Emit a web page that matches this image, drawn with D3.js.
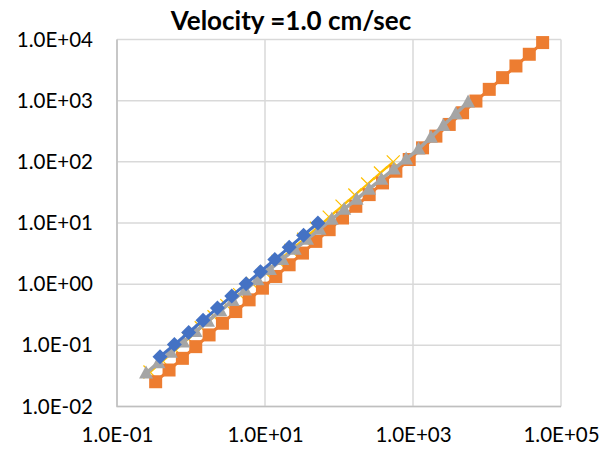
<!DOCTYPE html>
<html>
<head>
<meta charset="utf-8">
<script src="https://cdn.jsdelivr.net/npm/d3@7"></script>
<style>
  body { margin: 0; background: #fff; }
  svg { display: block; }
</style>
</head>
<body>
<svg width="603" height="449"></svg>
<script>
// tick values
const xTicks = [1e-1, 1e1, 1e3, 1e5];
const yTicks = [1e-2, 1e-1, 1e0, 1e1, 1e2, 1e3, 1e4];

// series 1 (blue diamonds)
const blueX = [0.381, 0.596, 0.931, 1.455, 2.275, 3.556, 5.559, 8.69, 13.58, 21.23, 33.19, 51.88];
const blueY = [0.0652, 0.103, 0.1627, 0.2571, 0.4063, 0.6419, 1.014, 1.603, 2.533, 4.002, 6.324, 9.993];

// series 2 (orange squares)
const orangeX = [0.333, 0.505, 0.765, 1.159, 1.755, 2.658, 4.025, 6.098, 9.235, 13.99,
  21.18, 32.08, 48.6, 73.6, 111.5, 168.8, 255.7, 387.3, 586.7, 888.6,
  1346, 2039, 3088, 4677, 7084, 10728, 16248, 24610, 37275, 56460];
const orangeY = [0.0254, 0.0395, 0.0613, 0.0952, 0.148, 0.2296, 0.3566, 0.554, 0.86, 1.336,
  2.075, 3.223, 5.005, 7.773, 12.07, 18.75, 29.12, 45.23, 70.24, 109.1,
  169.4, 263.2, 408.7, 634.7, 985.8, 1531, 2378, 3693, 5735, 8907];

// series 3 (grey triangles)
const greyX = [0.247, 0.363, 0.533, 0.784, 1.152, 1.694, 2.491, 3.663, 5.385, 7.918,
  11.64, 17.12, 25.17, 37.0, 54.4, 80.0, 117.6, 172.9, 254.2, 373.8,
  549.5, 808, 1188, 1747, 2568, 3776, 5552];
const greyY = [0.0352, 0.0521, 0.0769, 0.1137, 0.168, 0.2482, 0.3669, 0.5421, 0.8012, 1.184,
  1.741, 2.54, 3.706, 5.406, 7.886, 11.51, 16.79, 24.49, 35.74, 52.13,
  76.06, 111.0, 161.9, 251.3, 392.4, 612.7, 955];

// series 4 (yellow crosses)
const yellowX = [0.279, 0.416, 0.619, 0.923, 1.374, 2.046, 3.048, 4.539, 6.761, 10.07,
  15.0, 22.34, 33.27, 49.55, 73.79, 109.9, 163.7, 243.8, 363.1, 540.8];
const yellowY = [0.0366, 0.0556, 0.0842, 0.1278, 0.1937, 0.2938, 0.4455, 0.6754, 1.024, 1.553,
  2.355, 3.571, 5.415, 8.211, 12.45, 18.88, 28.63, 43.41, 65.82, 99.8];

const svg = d3.select('svg');
const plot = {left: 117, right: 561, top: 39.5, bottom: 406.5};

const x = d3.scaleLog().domain([1e-1, 1e5]).range([plot.left, plot.right]);
const y = d3.scaleLog().domain([1e-2, 1e4]).range([plot.bottom, plot.top]);

// 1.0E+04 style labels
function sci(v) {
  const e = Math.round(Math.log10(v));
  return '1.0E' + (e < 0 ? '-' : '+') + String(Math.abs(e)).padStart(2, '0');
}

const font = 'Lato, "Open Sans", sans-serif';

// gridlines
svg.append('g')
  .selectAll('line')
  .data(yTicks)
  .enter()
  .append('line')
  .attr('x1', plot.left).attr('x2', plot.right)
  .attr('y1', d => y(d)).attr('y2', d => y(d))
  .attr('stroke', '#d9d9d9').attr('stroke-width', 1.5);

svg.append('g')
  .selectAll('line')
  .data(xTicks)
  .enter()
  .append('line')
  .attr('x1', d => x(d)).attr('x2', d => x(d))
  .attr('y1', plot.top).attr('y2', plot.bottom)
  .attr('stroke', '#d9d9d9').attr('stroke-width', 1.5);

// axis lines (left + bottom)
svg.append('path')
  .attr('d', `M${plot.left},${plot.top}V${plot.bottom}H${plot.right}`)
  .attr('fill', 'none')
  .attr('stroke', '#bfbfbf')
  .attr('stroke-width', 1.5);

// axes via d3, only labels kept
const yAxis = svg.append('g')
  .attr('transform', `translate(${plot.left},0)`)
  .call(d3.axisLeft(y).tickValues(yTicks).tickFormat(sci).tickSize(0).tickPadding(24));
const xAxis = svg.append('g')
  .attr('transform', `translate(0,${plot.bottom})`)
  .call(d3.axisBottom(x).tickValues(xTicks).tickFormat(sci).tickSize(0).tickPadding(21));
[xAxis, yAxis].forEach(a => {
  a.select('.domain').remove();
  a.selectAll('text')
    .attr('font-family', font)
    .attr('font-size', 20.5)
    .attr('fill', '#000');
});

// title
svg.append('text')
  .attr('x', 291)
  .attr('y', 30)
  .attr('text-anchor', 'middle')
  .attr('font-family', font)
  .attr('font-weight', 'bold')
  .attr('font-size', 26)
  .attr('fill', '#000')
  .text('Velocity =1.0 cm/sec');

const line = d3.line().x(d => x(d[0])).y(d => y(d[1]));
const zip = (a, b) => a.map((v, i) => [v, b[i]]);

// drawing order: yellow sits underneath, blue on top
const series = [
  {name: 'yellow', pts: zip(yellowX, yellowY), color: '#ffc000', marker: 'cross', w: 2.25},
  {name: 'orange', pts: zip(orangeX, orangeY), color: '#ed7d31', marker: 'square', w: 3},
  {name: 'grey', pts: zip(greyX, greyY), color: '#a5a5a5', marker: 'triangle', w: 3.5},
  {name: 'blue', pts: zip(blueX, blueY), color: '#4472c4', marker: 'diamond', w: 3}
];

series.forEach(s => {
  const g = svg.append('g').attr('class', s.name);
  g.append('path')
    .attr('d', line(s.pts))
    .attr('fill', 'none')
    .attr('stroke', s.color)
    .attr('stroke-width', s.w)
    .attr('stroke-linejoin', 'round');

  const m = g.selectAll('.m')
    .data(s.pts)
    .enter()
    .append('g')
    .attr('transform', d => `translate(${x(d[0])},${y(d[1])})`);

  if (s.marker === 'square') {
    m.append('rect')
      .attr('x', -6.5).attr('y', -6.5).attr('width', 13).attr('height', 13)
      .attr('fill', s.color);
  } else if (s.marker === 'diamond') {
    m.append('path')
      .attr('d', 'M0,-7.5L7.5,0L0,7.5L-7.5,0Z')
      .attr('fill', s.color);
  } else if (s.marker === 'triangle') {
    m.append('path')
      .attr('d', 'M0,-7.5L7,5.5L-7,5.5Z')
      .attr('fill', s.color);
  } else {
    m.append('path')
      .attr('d', 'M-6.5,-6.5L6.5,6.5M-6.5,6.5L6.5,-6.5')
      .attr('stroke', s.color)
      .attr('stroke-width', 1.25);
  }
});
</script>
</body>
</html>
